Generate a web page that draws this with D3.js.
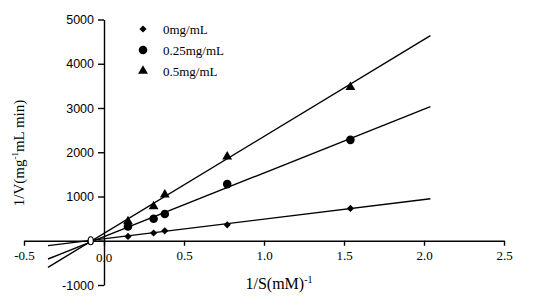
<!DOCTYPE html>
<html>
<head>
<meta charset="utf-8">
<script src="https://cdn.jsdelivr.net/npm/d3@7"></script>
<style>
  body { margin: 0; background: #fff; }
</style>
</head>
<body>
<svg width="536" height="307"></svg>
<script>
// 1/S values (mM^-1)
const substrate = [0.15, 0.31, 0.38, 0.77, 1.54];
// 1/V values per inhibitor concentration
const series0 = [97, 175, 225, 361, 730];
const series025 = [323, 497, 603, 1280, 2280];
const series05 = [436, 775, 1040, 1900, 3470];
const fitX = [-0.35, 2.04];
const fit0 = [-110, 948];
const fit025 = [-413, 3032];
const fit05 = [-600, 4635];
// common intercept marker
const interceptPoint = [-0.083, 0];
const labels = ["0mg/mL", "0.25mg/mL", "0.5mg/mL"];
const xTicks = [-0.5, 0.0, 0.5, 1.0, 1.5, 2.0, 2.5];
const yTicks = [-1000, 0, 1000, 2000, 3000, 4000, 5000];

const svg = d3.select("svg");
const x = d3.scaleLinear().domain([-0.5, 2.5]).range([24, 504]);
const y = d3.scaleLinear().domain([-1000, 5000]).range([285, 19.5]);

const serif = "'Liberation Serif', 'Times New Roman', serif";
const sans = "'Liberation Sans', Arial, sans-serif";

const series = [
  { name: labels[0], values: series0, fit: fit0, shape: d3.symbolSquare, size: 26, rot: 45 },
  { name: labels[1], values: series025, fit: fit025, shape: d3.symbolCircle, size: 58, rot: 0 },
  { name: labels[2], values: series05, fit: fit05, shape: d3.symbolTriangle, size: 42, rot: 0 }
];

// Y axis on x = 0
const yAxis = svg.append("g")
  .attr("transform", `translate(${x(0)},0)`)
  .call(d3.axisLeft(y).tickValues(yTicks).tickFormat(d => d === 0 ? "" : d).tickSize(6).tickSizeOuter(0));
yAxis.select(".domain").attr("stroke-width", 1.4);
yAxis.selectAll(".tick line").attr("stroke-width", 1.4);
yAxis.selectAll(".tick text")
  .attr("x", -10)
  .style("font-family", sans)
  .style("font-size", "12.5px")
  .attr("fill", "#000");

// X axis on y = 0
const xAxis = svg.append("g")
  .attr("transform", `translate(0,${y(0)})`)
  .call(d3.axisBottom(x).tickValues(xTicks).tickFormat(d => d === 0 ? "" : d.toFixed(1)).tickSize(5).tickSizeOuter(0));
xAxis.select(".domain").attr("stroke-width", 1.4);
xAxis.selectAll(".tick line").attr("stroke-width", 1.4);
xAxis.selectAll(".tick text")
  .attr("y", 10)
  .style("font-family", serif)
  .style("font-size", "13px")
  .attr("fill", "#000");

// origin label, crossed by the y axis
svg.append("text")
  .attr("x", x(0))
  .attr("y", y(0) + 21)
  .attr("text-anchor", "middle")
  .style("font-family", serif)
  .style("font-size", "13px")
  .attr("fill", "#000")
  .text((0).toFixed(1));

// Fit lines
const line = d3.line().x(d => x(d[0])).y(d => y(d[1]));
svg.append("g").selectAll("path")
  .data(series)
  .join("path")
  .attr("d", s => line(fitX.map((v, i) => [v, s.fit[i]])))
  .attr("fill", "none")
  .attr("stroke", "#000")
  .attr("stroke-width", 1.4);

// Points
series.forEach(s => {
  svg.append("g").selectAll("path")
    .data(s.values.map((v, i) => [substrate[i], v]))
    .join("path")
    .attr("transform", d => `translate(${x(d[0])},${y(d[1])}) rotate(${s.rot})`)
    .attr("d", d3.symbol().type(s.shape).size(s.size))
    .attr("fill", "#000");
});

// Intercept marker
svg.append("ellipse")
  .attr("cx", x(interceptPoint[0]))
  .attr("cy", y(interceptPoint[1]))
  .attr("rx", 2.6)
  .attr("ry", 4)
  .attr("fill", "#fff")
  .attr("stroke", "#000")
  .attr("stroke-width", 1.2);

// Legend
const legend = svg.append("g").attr("transform", "translate(143,29)");
series.forEach((s, i) => {
  legend.append("path")
    .attr("transform", `translate(0,${i * 21}) rotate(${s.rot})`)
    .attr("d", d3.symbol().type(s.shape).size(s.size))
    .attr("fill", "#000");
  legend.append("text")
    .attr("x", 20)
    .attr("y", i * 21 + 4.5)
    .style("font-family", serif)
    .style("font-size", "13px")
    .text(s.name);
});

// Axis titles
const xTitle = svg.append("text")
  .attr("x", 279)
  .attr("y", 289)
  .attr("text-anchor", "middle")
  .style("font-family", serif)
  .style("font-size", "16px");
xTitle.append("tspan").text("1/S(mM)");
xTitle.append("tspan").attr("dy", -6).style("font-size", "10px").text("-1");

const yTitle = svg.append("text")
  .attr("transform", "translate(24,153) rotate(-90)")
  .attr("text-anchor", "middle")
  .style("font-family", serif)
  .style("font-size", "15px");
yTitle.append("tspan").text("1/V(mg");
yTitle.append("tspan").attr("dy", -6).style("font-size", "9px").text("-1");
yTitle.append("tspan").attr("dy", 6).text("mL min)");
</script>
</body>
</html>
